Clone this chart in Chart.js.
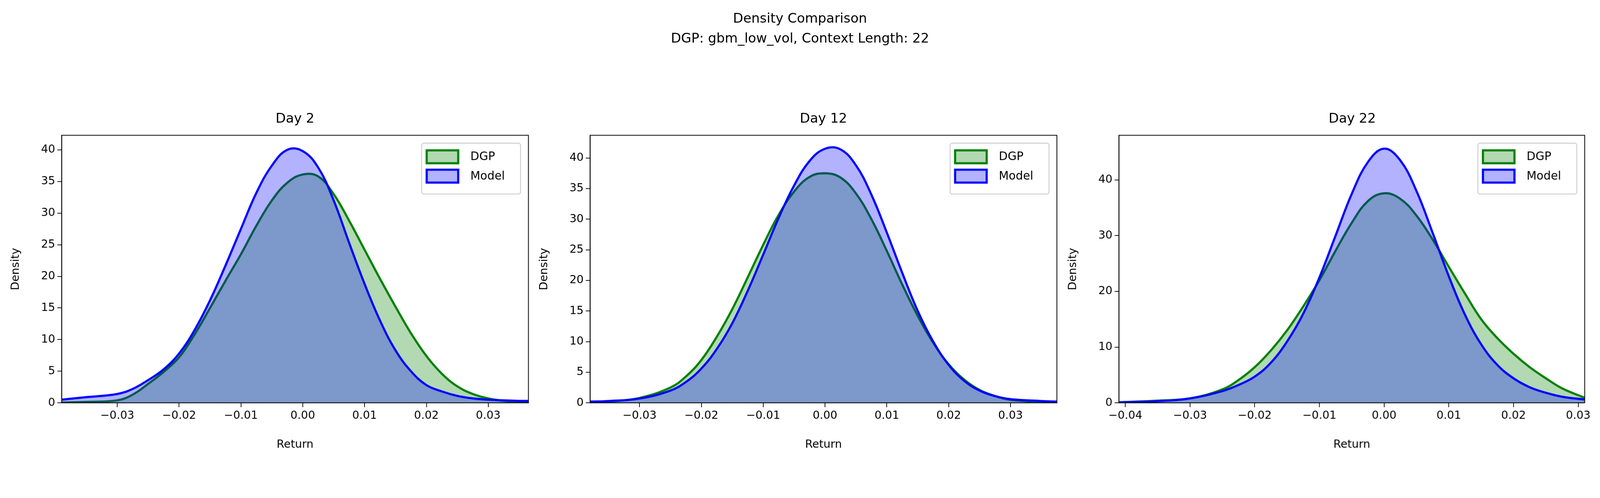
<!DOCTYPE html>
<html><head><meta charset="utf-8">
<script src="https://cdn.jsdelivr.net/npm/chart.js@4.4.1/dist/chart.umd.min.js"></script>
<style>
html,body{margin:0;padding:0;background:#fff;overflow:hidden;}
#wrap{width:4466px;height:1275px;position:absolute;left:0;top:0;transform-origin:0 0;font-family:"DejaVu Sans",sans-serif;}
.t{position:absolute;text-align:center;color:#000;font-size:37px;white-space:nowrap;transform:translate(-50%,-50%);}
canvas{position:absolute;}
</style></head><body>
<div id="wrap">
<div class="t" style="left:2233px;top:51px">Density Comparison</div>
<div class="t" style="left:2233px;top:106px">DGP: gbm_low_vol, Context Length: 22</div>
</div>
<script>
const panelTitles = ["Day 2", "Day 12", "Day 22"];
const x1 = [-0.039,-0.035,-0.03,-0.0275,-0.025,-0.0225,-0.02,-0.0175,-0.015,-0.0125,-0.01,-0.0075,-0.005,-0.0025,0,0.0025,0.005,0.0075,0.01,0.0125,0.015,0.0175,0.02,0.0225,0.025,0.0275,0.03,0.0325,0.035,0.0365];
const dgp1 = [0.05,0.15,0.4,1.3,3.0,4.9,7.2,10.8,15,19.3,23.5,28,32,34.8,36.1,35.8,33,28.8,24.2,19.6,15.2,11,7.4,4.6,2.6,1.4,0.7,0.3,0.15,0.1];
const model1 = [0.5,0.9,1.4,2.2,3.6,5.3,7.8,11.5,16.2,21.7,27.5,33.2,37.5,40,39.8,37.2,32,25.3,18.8,13,8.3,5,2.8,1.8,1.1,0.7,0.5,0.4,0.3,0.3];
const x2 = [-0.038,-0.035,-0.03,-0.025,-0.0225,-0.02,-0.0175,-0.015,-0.0125,-0.01,-0.0075,-0.005,-0.0025,0,0.0025,0.005,0.0075,0.01,0.0125,0.015,0.0175,0.02,0.0225,0.025,0.0275,0.03,0.035,0.0375];
const dgp2 = [0.1,0.2,0.8,2.5,4.3,7,10.8,15.3,20.5,25.8,30.7,34.5,36.9,37.5,36.8,34.2,30,24.8,19.3,14.2,9.8,6.3,3.8,2.1,1.1,0.5,0.15,0.1];
const model2 = [0.2,0.3,0.7,2,3.4,5.6,8.8,13,18.3,24.2,30.2,35.5,39.5,41.5,41.4,38.8,34,27.8,21.2,15,10,6.2,3.6,2,1.1,0.6,0.3,0.2];
const x3 = [-0.041,-0.035,-0.03,-0.025,-0.0225,-0.02,-0.0175,-0.015,-0.0125,-0.01,-0.0075,-0.005,-0.0025,0,0.0025,0.005,0.0075,0.01,0.0125,0.015,0.0175,0.02,0.0225,0.025,0.0275,0.031];
const dgp3 = [0.1,0.4,0.8,2.4,4.1,6.4,9.4,13,17.3,22,27.3,32.3,36.2,37.6,36.6,33.6,29.3,24.4,19.6,15,11.6,8.8,6.4,4.4,2.6,0.9];
const model3 = [0.1,0.3,0.8,2.1,3.2,4.7,7.2,11,16,22.5,30,37.5,43.2,45.6,43.5,38,30.5,22.7,15.8,10.5,6.8,4.4,2.8,1.8,1.1,0.6];
const xRanges = [[-0.039,0.0365],[-0.038,0.0375],[-0.041,0.031]];
const yMax = [42.3,43.7,48];
const yStep = [5,5,10];
const xs = [x1,x2,x3], dgps=[dgp1,dgp2,dgp3], models=[model1,model2,model3];
const lefts = [172,1647,3123], W = 1303, TOP = 363, BOT = 1124;
const PADL = 150, PADR = 20, PADT = 10, XH = 140;
const FONT = '"DejaVu Sans", sans-serif';
const wrap = document.getElementById('wrap');
const sc = Math.min(window.innerWidth/4466, window.innerHeight/1275) || 1;
if (Math.abs(sc-1) > 0.001) wrap.style.transform = 'scale(' + sc + ')';
const dpr = (window.devicePixelRatio || 1) * sc;

const frame = {
  id:'frame',
  afterDraw(c){
    const a=c.chartArea, ctx=c.ctx;
    ctx.save(); ctx.strokeStyle='#000'; ctx.lineWidth=2.2;
    ctx.strokeRect(a.left,a.top,a.right-a.left,a.bottom-a.top);
    const bw=276,bh=142,bx=a.right-bw-22,by=a.top+22;
    ctx.fillStyle='rgba(255,255,255,0.8)'; ctx.strokeStyle='#cccccc'; ctx.lineWidth=2.5;
    ctx.beginPath(); ctx.roundRect(bx,by,bw,bh,6); ctx.fill(); ctx.stroke();
    const items=[['DGP','#008000','rgba(0,128,0,0.3)'],['Model','#0000ff','rgba(0,0,255,0.3)']];
    ctx.font='32px '+FONT; ctx.textBaseline='middle';
    items.forEach((it,i)=>{
      const y=by+20+i*54;
      ctx.fillStyle='#fff'; ctx.fillRect(bx+14,y,88,36);
      ctx.fillStyle=it[2]; ctx.fillRect(bx+14,y,88,36);
      ctx.strokeStyle=it[1]; ctx.lineWidth=6; ctx.strokeRect(bx+14,y,88,36);
      ctx.fillStyle='#000'; ctx.fillText(it[0],bx+136,y+19);
    });
    ctx.restore();
  }
};

for(let p=0;p<3;p++){
  const t=document.createElement('div'); t.className='t';
  t.style.left=(lefts[p]+W/2)+'px'; t.style.top='330px'; t.textContent=panelTitles[p];
  wrap.appendChild(t);
  const cv=document.createElement('canvas');
  const cw=W+PADL+PADR, ch=(BOT-TOP)+PADT+XH;
  cv.style.left=(lefts[p]-PADL)+'px'; cv.style.top=(TOP-PADT)+'px';
  cv.style.width=cw+'px'; cv.style.height=ch+'px';
  cv.width=cw; cv.height=ch;
  wrap.appendChild(cv);
  const mk=(arr)=>xs[p].map((x,i)=>({x:x,y:arr[i]}));
  new Chart(cv,{
    type:'line',
    data:{datasets:[
      {label:'DGP',order:2,data:mk(dgps[p]),borderColor:'#008000',backgroundColor:'rgba(0,128,0,0.3)',fill:'origin',borderWidth:6,pointRadius:0,tension:0.4},
      {label:'Model',order:1,data:mk(models[p]),borderColor:'#0000ff',backgroundColor:'rgba(0,0,255,0.3)',fill:'origin',borderWidth:6,pointRadius:0,tension:0.4}
    ]},
    options:{
      responsive:false,animation:false,devicePixelRatio:dpr,
      layout:{padding:{top:PADT,right:PADR,left:0,bottom:0}},
      plugins:{legend:{display:false},tooltip:{enabled:false}},
      scales:{
        x:{type:'linear',min:xRanges[p][0],max:xRanges[p][1],
          afterFit(s){s.height=XH;},
          afterBuildTicks(s){const r=[];for(let k=-4;k<=4;k++){const vv=k/100;if(vv>=s.min&&vv<=s.max)r.push({value:vv});}s.ticks=r;},
          ticks:{color:'#000',font:{size:31,family:FONT},padding:6,maxRotation:0,autoSkip:false,
            callback:v=>(v<0?'\u2212':'')+Math.abs(v).toFixed(2)},
          grid:{drawOnChartArea:false,drawTicks:true,tickLength:12,color:'#000',lineWidth:2},
          border:{display:true,color:'#000',width:2},
          title:{display:true,text:'Return',color:'#000',font:{size:31,family:FONT},padding:{top:8}}},
        y:{min:0,max:yMax[p],
          afterFit(s){s.width=PADL;},
          afterBuildTicks(s){const r=[];for(let v=0;v<=s.max;v+=yStep[p])r.push({value:v});s.ticks=r;},
          ticks:{color:'#000',font:{size:31,family:FONT},padding:6},
          grid:{drawOnChartArea:false,drawTicks:true,tickLength:12,color:'#000',lineWidth:2},
          border:{display:true,color:'#000',width:2},
          title:{display:true,text:'Density',color:'#000',font:{size:31,family:FONT},padding:{bottom:4}}}
      }
    },
    plugins:[frame]
  });
}
</script>
</body></html>
